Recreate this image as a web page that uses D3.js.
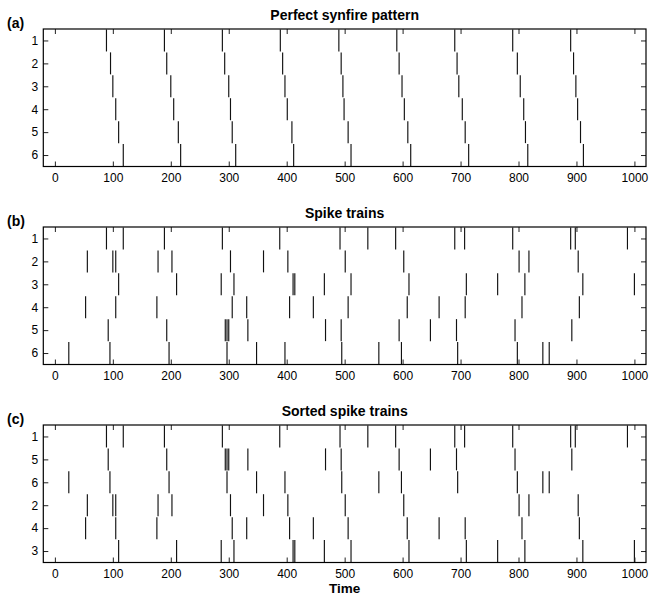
<!DOCTYPE html>
<html>
<head>
<meta charset="utf-8">
<script src="https://cdn.jsdelivr.net/npm/d3@7"></script>
<style>
  html, body { margin: 0; padding: 0; background: #fff; }
  svg { display: block; }
  text { font-family: "Liberation Sans", Arial, Helvetica, sans-serif; }
</style>
</head>
<body>
<svg id="chart" width="652" height="596"></svg>
<script>
// ---- data ----
const xTicks = [0, 100, 200, 300, 400, 500, 600, 700, 800, 900, 1000];
const neuronIds = [1, 2, 3, 4, 5, 6];
const sortedOrder = [1, 5, 6, 2, 4, 3];
const panelTitles = ["Perfect synfire pattern", "Spike trains", "Sorted spike trains"];
const panelLetters = ["(a)", "(b)", "(c)"];

// Perfect synfire pattern: spike times per neuron (rows 1..6)
const synfire1 = [89, 189, 289, 389, 490, 590, 690, 790, 890];
const synfire2 = [96, 193, 293, 393, 494, 594, 694, 798, 895];
const synfire3 = [100, 200, 300, 397, 497, 599, 697, 803, 899];
const synfire4 = [105, 205, 303, 401, 499, 603, 703, 809, 902];
const synfire5 = [110, 213, 306, 409, 506, 609, 708, 812, 907];
const synfire6 = [118, 217, 312, 412, 511, 614, 714, 816, 912];

// Noisy spike trains per neuron
const train1 = [89, 118, 189, 289, 388, 492, 540, 588, 690, 707, 790, 890, 898, 988];
const train2 = [56, 100, 105, 178, 202, 303, 360, 402, 501, 602, 801, 818, 903];
const train3 = [110, 210, 287, 309, 411, 414, 465, 511, 611, 710, 764, 811, 911, 1000];
const train4 = [53, 105, 176, 306, 331, 405, 446, 506, 608, 663, 708, 806, 905];
const train5 = [92, 193, 294, 297, 300, 333, 467, 494, 594, 648, 693, 794, 892];
const train6 = [24, 95, 197, 297, 348, 397, 495, 559, 598, 695, 798, 842, 853];

const synfireRows = [synfire1, synfire2, synfire3, synfire4, synfire5, synfire6];
const trainRows = [train1, train2, train3, train4, train5, train6];

// ---- layout ----
const W = 652, H = 596;
const left = 43.3, right = 646;
const panelTops = [29, 227, 425];
const panelH = 137.5;

const svg = d3.select("#chart");
svg.append("rect").attr("width", W).attr("height", H).attr("fill", "#fff");

const x = d3.scaleLinear().domain([-20, 1020]).range([left, right]);

function drawPanel(p, rowsData, labels) {
  const top = panelTops[p];
  const y = d3.scaleLinear().domain([0.5, 6.5]).range([top, top + panelH]);
  const g = svg.append("g");

  // spikes
  const segs = [];
  rowsData.forEach((times, i) => {
    times.forEach(t => segs.push({ t: t, r: i + 1 }));
  });
  g.append("g").selectAll("line").data(segs).join("line")
    .attr("x1", d => x(d.t)).attr("x2", d => x(d.t))
    .attr("y1", d => y(d.r - 0.48)).attr("y2", d => y(d.r + 0.48))
    .attr("stroke", "#111").attr("stroke-width", 1.15);

  // axes (ticks inside)
  const axB = g.append("g").attr("transform", `translate(0,${top + panelH})`)
    .call(d3.axisBottom(x).tickValues(xTicks).tickSize(-5).tickSizeOuter(0).tickPadding(7)
      .tickFormat(d3.format("d")));
  const axT = g.append("g").attr("transform", `translate(0,${top})`)
    .call(d3.axisTop(x).tickValues(xTicks).tickSize(-5).tickSizeOuter(0).tickFormat(""));
  const axL = g.append("g").attr("transform", `translate(${left},0)`)
    .call(d3.axisLeft(y).tickValues(neuronIds).tickSize(-5).tickSizeOuter(0).tickPadding(5)
      .tickFormat(d => labels[d - 1]));
  const axR = g.append("g").attr("transform", `translate(${right},0)`)
    .call(d3.axisRight(y).tickValues(neuronIds).tickSize(-5).tickSizeOuter(0).tickFormat(""));
  [axB, axT, axL, axR].forEach(a => {
    a.select(".domain").remove();
    a.selectAll(".tick line").attr("stroke", "#222").attr("stroke-width", 1);
    a.selectAll("text").attr("font-size", 12).attr("fill", "#000")
      .attr("font-family", '"Liberation Sans", Arial, Helvetica, sans-serif');
  });

  // frame
  g.append("rect").attr("x", left).attr("y", top)
    .attr("width", right - left).attr("height", panelH)
    .attr("fill", "none").attr("stroke", "#000").attr("stroke-width", 1.2);

  // title and letter
  g.append("text").attr("x", (left + right) / 2).attr("y", top - 9)
    .attr("text-anchor", "middle").attr("font-size", 14).attr("font-weight", "bold")
    .text(panelTitles[p]);
  g.append("text").attr("x", 7).attr("y", top - 1)
    .attr("font-size", 14).attr("font-weight", "bold")
    .text(panelLetters[p]);
}

drawPanel(0, synfireRows, neuronIds.map(String));
drawPanel(1, trainRows, neuronIds.map(String));
drawPanel(2, sortedOrder.map(id => trainRows[id - 1]), sortedOrder.map(String));

svg.append("text").attr("x", (left + right) / 2).attr("y", 593)
  .attr("text-anchor", "middle").attr("font-size", 13.5).attr("font-weight", "bold")
  .text("Time");
</script>
</body>
</html>
